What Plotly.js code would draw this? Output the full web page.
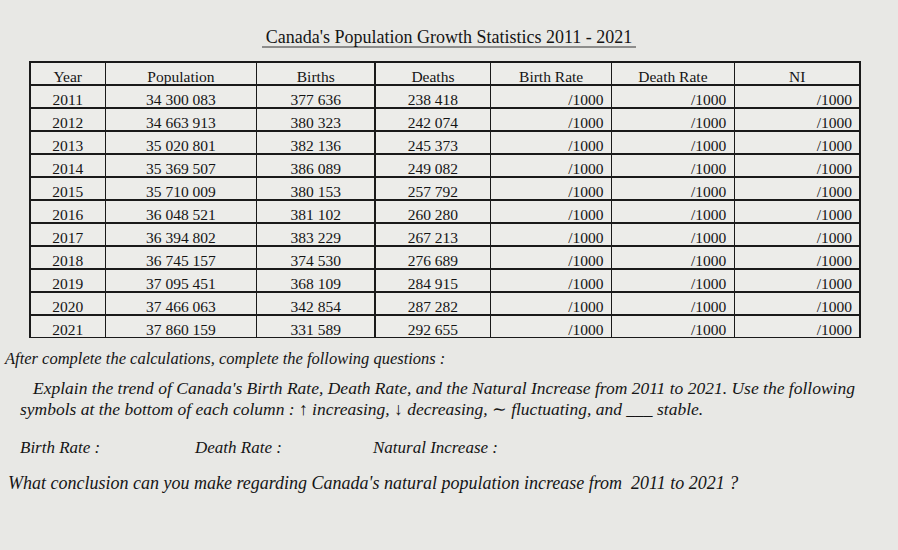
<!DOCTYPE html>
<html>
<head>
<meta charset="utf-8">
<script src="https://cdn.plot.ly/plotly-3.0.1.min.js"></script>
<style>html,body{margin:0;padding:0;background:#e8e8e5;}</style>
</head>
<body>
<div id="chart" style="width:898px;height:550px;"></div>
<script>
const headers = ["Year", "Population", "Births", "Deaths", "Birth Rate", "Death Rate", "NI"];
const years = ["2011","2012","2013","2014","2015","2016","2017","2018","2019","2020","2021"];
const population = ["34 300 083","34 663 913","35 020 801","35 369 507","35 710 009","36 048 521","36 394 802","36 745 157","37 095 451","37 466 063","37 860 159"];
const births = ["377 636","380 323","382 136","386 089","380 153","381 102","383 229","374 530","368 109","342 854","331 589"];
const deaths = ["238 418","242 074","245 373","249 082","257 792","260 280","267 213","276 689","284 915","287 282","292 655"];
const birthRate = years.map(() => "/1000");
const deathRate = years.map(() => "/1000");
const ni = years.map(() => "/1000");

const W = 898, H = 550;
const serif = "Liberation Serif, DejaVu Serif, serif";
const ink = "#151515";

const trace = {
  type: "table",
  domain: {x: [30/W, 860/W], y: [(H-338)/H, (H-62)/H]},
  columnwidth: [75, 150, 118, 115, 120, 122, 125],
  header: {
    values: headers,
    align: "center",
    height: 23,
    line: {color: "#1a1a1a", width: 1.4},
    fill: {color: "#ecece9"},
    font: {family: serif, size: 15.5, color: ink}
  },
  cells: {
    values: [years, population, births, deaths, birthRate, deathRate, ni],
    align: ["center","center","center","center","right","right","right"],
    height: 23,
    line: {color: "#1a1a1a", width: 1.4},
    fill: {color: "#ecece9"},
    font: {family: serif, size: 15.5, color: ink}
  }
};

function ann(text, x, y, size) {
  return {
    text: text, x: x/W, y: 1 - y/H, xref: "paper", yref: "paper",
    xanchor: "left", yanchor: "middle", showarrow: false,
    font: {family: serif, size: size, color: "#151515", style: "italic"}
  };
}

const layout = {
  width: W, height: H,
  margin: {l: 0, r: 0, t: 0, b: 0},
  paper_bgcolor: "#e8e8e5",
  plot_bgcolor: "#e8e8e5",
  title: {
    text: "Canada's Population Growth Statistics 2011 - 2021",
    x: 449/W, xanchor: "center", y: 1 - 37/H, yanchor: "middle",
    font: {family: serif, size: 18, color: "#151515"}
  },
  shapes: [
    {type: "line", xref: "paper", yref: "paper", x0: 262/W, x1: 636/W, y0: 1 - 47/H, y1: 1 - 47/H, line: {color: "#333", width: 1}}
  ],
  annotations: [
    ann("After complete the calculations, complete the following questions :", 2, 358, 16.5),
    ann("Explain the trend of Canada's Birth Rate, Death Rate, and the Natural Increase from 2011 to 2021. Use the following", 30, 388, 17.5),
    ann("symbols at the bottom of each column : ↑ increasing, ↓ decreasing, ∼ fluctuating, and ___ stable.", 18, 409, 17.5),
    ann("Birth Rate :", 18, 447, 17),
    ann("Death Rate :", 192, 447, 17),
    ann("Natural Increase :", 370, 447, 17),
    ann("What conclusion can you make regarding Canada's natural population increase from  2011 to 2021 ?", 6, 483, 18)
  ]
};

Plotly.newPlot("chart", [trace], layout, {displayModeBar: false, staticPlot: true});
</script>
</body>
</html>
